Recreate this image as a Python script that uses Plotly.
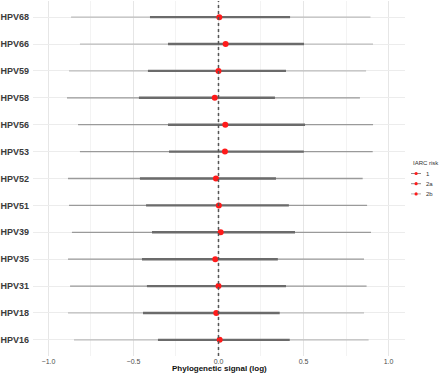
import plotly.graph_objects as go

# ---- data ----
types = ["HPV68", "HPV66", "HPV59", "HPV58", "HPV56", "HPV53", "HPV52",
         "HPV51", "HPV39", "HPV35", "HPV31", "HPV18", "HPV16"]
median = [0.005, 0.042, 0.000, -0.022, 0.040, 0.038, -0.015,
          0.002, 0.013, -0.019, 0.000, -0.013, 0.007]
lo95 = [-0.867, -0.815, -0.879, -0.891, -0.826, -0.815, -0.885,
        -0.879, -0.862, -0.885, -0.873, -0.885, -0.850]
hi95 = [0.894, 0.909, 0.868, 0.832, 0.909, 0.907, 0.848,
        0.874, 0.897, 0.856, 0.871, 0.856, 0.883]
lo50 = [-0.403, -0.297, -0.415, -0.468, -0.297, -0.291, -0.462,
        -0.426, -0.391, -0.450, -0.421, -0.444, -0.356]
hi50 = [0.421, 0.503, 0.397, 0.332, 0.509, 0.502, 0.338,
        0.414, 0.450, 0.349, 0.397, 0.360, 0.419]
shade = ["light", "light", "light", "dark", "dark", "dark", "dark",
         "dark", "dark", "dark", "dark", "light", "light"]
risk_levels = ["1", "2a", "2b"]
x_ticks = [-1.0, -0.5, 0.0, 0.5, 1.0]

outer_colors = {"light": "#bcbcbc", "dark": "#9a9a9a"}

W, H = 440, 375
ML, MR, MT, MB = 33, 35, 1, 19
PW, PH = W - ML - MR, H - MT - MB


def px_to_paper(px, py):
    return (px - ML) / PW, (H - MB - py) / PH


fig = go.Figure()

def segs(lo, hi, idx):
    xs, ys = [], []
    for i in idx:
        xs += [lo[i], hi[i], None]
        ys += [types[i], types[i], None]
    return xs, ys

for s, col in outer_colors.items():
    idx = [i for i in range(len(types)) if shade[i] == s]
    xs, ys = segs(lo95, hi95, idx)
    fig.add_trace(go.Scatter(x=xs, y=ys, mode="lines",
                             line=dict(color=col, width=1.3),
                             showlegend=False, hoverinfo="skip"))

xs, ys = segs(lo50, hi50, range(len(types)))
fig.add_trace(go.Scatter(x=xs, y=ys, mode="lines",
                         line=dict(color="#6b6b6b", width=2.4),
                         showlegend=False, hoverinfo="skip"))

fig.add_trace(go.Scatter(x=median, y=types, mode="markers",
                         marker=dict(color="#ff1a1a", size=6),
                         showlegend=False))

# zero reference line
fig.add_shape(type="line", x0=0, x1=0, xref="x", y0=0, y1=1, yref="paper",
              line=dict(color="#555555", width=1.5, dash="dot"))

# manual legend + axis title
anns = []
shapes = []
tx, ty = px_to_paper(411, 163)
anns.append(dict(x=tx, y=ty, xref="paper", yref="paper", text="IARC risk",
                 showarrow=False, xanchor="left", yanchor="middle",
                 font=dict(size=6, color="#333333")))
leg_line_cols = ["#8a8a8a", "#8a8a8a", "#b0b0b0"]
for k, lab in enumerate(risk_levels):
    py = 173.5 + k * 10.2
    x0, y0 = px_to_paper(411, py)
    x1, _ = px_to_paper(421, py)
    shapes.append(dict(type="line", xref="paper", yref="paper",
                       x0=x0, x1=x1, y0=y0, y1=y0,
                       line=dict(color=leg_line_cols[k], width=1)))
    cx0, cy0 = px_to_paper(414.5, py - 1.6)
    cx1, cy1 = px_to_paper(417.7, py + 1.6)
    shapes.append(dict(type="circle", xref="paper", yref="paper",
                       x0=cx0, x1=cx1, y0=cy1, y1=cy0,
                       fillcolor="#ff1a1a", line=dict(width=0)))
    lx, _ = px_to_paper(424, py)
    anns.append(dict(x=lx, y=y0, xref="paper", yref="paper", text=lab,
                     showarrow=False, xanchor="left", yanchor="middle",
                     font=dict(size=6, color="#333333")))
for sh in shapes:
    fig.add_shape(**sh)

axx, axy = px_to_paper(219, 368.5)
anns.append(dict(x=axx, y=axy, xref="paper", yref="paper",
                 text="<b>Phylogenetic signal (log)</b>", showarrow=False,
                 xanchor="center", yanchor="middle",
                 font=dict(size=8, color="#111111")))

fig.update_layout(
    width=W, height=H,
    margin=dict(l=ML, r=MR, t=MT, b=MB, autoexpand=False),
    plot_bgcolor="white", paper_bgcolor="white",
    font=dict(family="Liberation Sans, Arial, sans-serif"),
    annotations=anns,
    showlegend=False,
)
fig.update_xaxes(
    range=[-1.091, 1.097], tickvals=x_ticks,
    ticktext=[("−" if v < 0 else "") + f"{abs(v):.1f}" for v in x_ticks],
    showgrid=True, gridcolor="#e6e6e6", gridwidth=0.8,
    minor=dict(dtick=0.25, tick0=0, showgrid=True, gridcolor="#f3f3f3", gridwidth=0.6),
    zeroline=False, showline=False, ticks="", automargin=False,
    tickfont=dict(size=7, color="#4d4d4d"), ticklabelstandoff=0,
)
fig.update_yaxes(
    type="category", categoryorder="array", categoryarray=types[::-1],
    range=[-0.6, len(types) - 0.4],
    tickvals=types, ticktext=[f"<b>{t}</b>" for t in types],
    showgrid=True, gridcolor="#ececec", gridwidth=0.8,
    zeroline=False, showline=False, ticks="", automargin=False,
    tickfont=dict(size=9, color="#3a3a3a"),
    ticklabelstandoff=3,
)

fig.write_html("out.html", config={"displayModeBar": False},
               post_script="document.body.style.margin='0';document.body.style.overflow='hidden';")
